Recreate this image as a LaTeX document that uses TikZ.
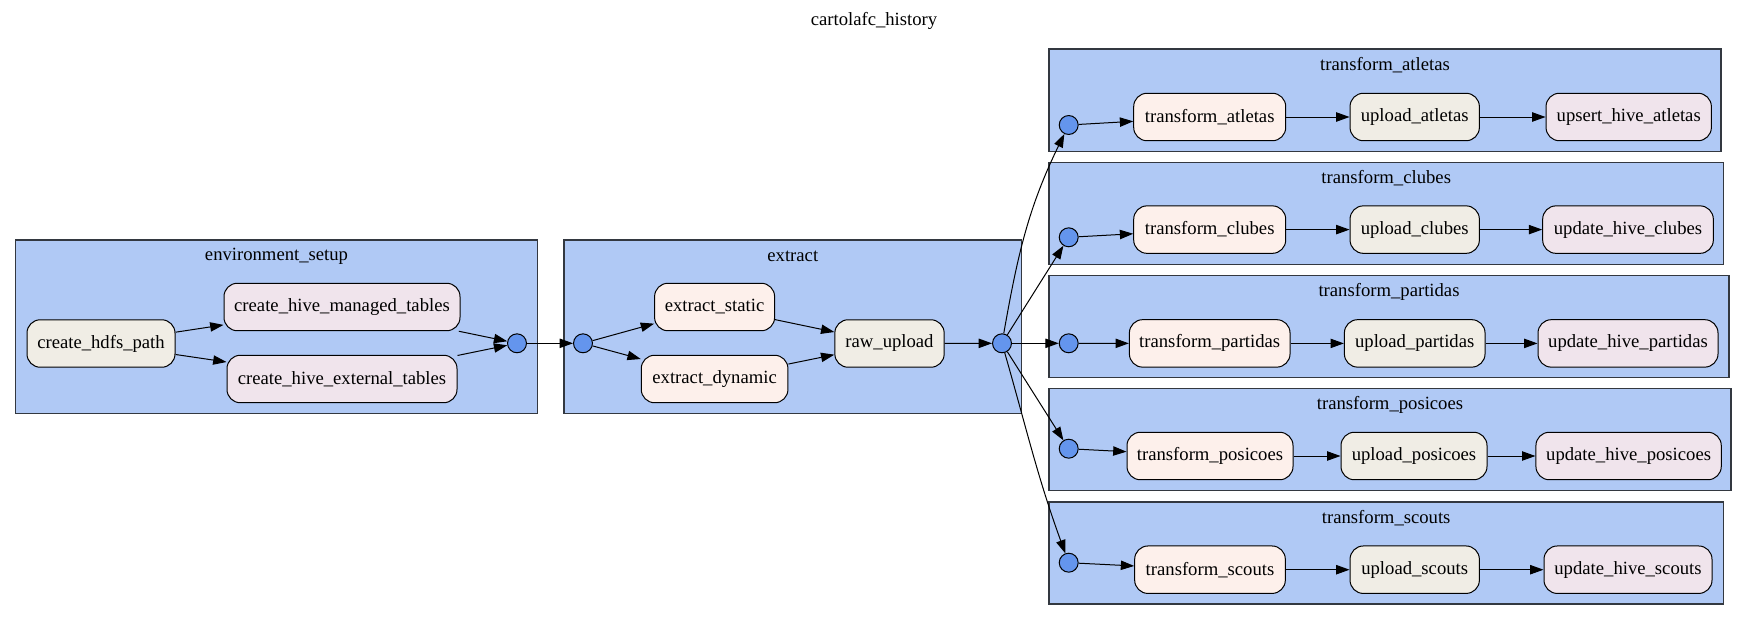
\documentclass[tikz,border=0pt]{standalone}
\usepackage{fontspec}
\setmainfont{Liberation Serif}
\usetikzlibrary{arrows.meta}

\definecolor{clusterblue}{HTML}{B0C9F5}
\definecolor{circblue}{HTML}{6495ED}
\definecolor{beigefill}{HTML}{F0EDE5}
\definecolor{peachfill}{HTML}{FDF0EB}
\definecolor{lilacfill}{HTML}{F0E4EC}
\definecolor{clusterline}{HTML}{333840}

\tikzset{
  task/.style={draw=black, line width=0.75pt, rounded corners=10pt,
    minimum height=35.6pt, inner xsep=0pt, align=center},
  beige/.style={task, fill=beigefill},
  peach/.style={task, fill=peachfill},
  lilac/.style={task, fill=lilacfill},
  junction/.style={circle, draw=black, line width=0.75pt, fill=circblue,
    minimum size=14.2pt, inner sep=0pt},
  cluster/.style={draw=clusterline, line width=0.9pt, fill=clusterblue},
  ctitle/.style={inner sep=0pt},
  flow/.style={line width=0.75pt, -{Triangle[length=10pt,width=7pt]}}
}

\begin{document}
\begin{tikzpicture}[x=0.75pt, y=-0.75pt, font=\fontsize{14pt}{17pt}\selectfont]
\useasboundingbox[fill=white] (0,0) rectangle (1748,621);

% title
\node[ctitle] (title) at (874,21) {cartolafc\_history};

% cluster frames
\path[cluster] (15.6,240) rectangle (537.3,413.5);
\node[ctitle] (tenv) at (276.5,256) {environment\_setup};
\path[cluster] (564,240) rectangle (1021.7,413.5);
\node[ctitle] (text) at (792.8,256) {extract};
\path[cluster] (1049,49) rectangle (1721,151.7);
\node[ctitle] (tatl) at (1385,64.7) {transform\_atletas};
\path[cluster] (1049,162.3) rectangle (1723.5,264.3);
\node[ctitle] (tclu) at (1386.2,178) {transform\_clubes};
\path[cluster] (1049,275.7) rectangle (1729,377.7);
\node[ctitle] (tpar) at (1389,291.5) {transform\_partidas};
\path[cluster] (1049,388.7) rectangle (1731,490.7);
\node[ctitle] (tpos) at (1390,404.5) {transform\_posicoes};
\path[cluster] (1049,502) rectangle (1723.5,604);
\node[ctitle] (tsco) at (1386.2,518) {transform\_scouts};

% environment_setup
\node[beige, minimum width=111pt] (hdfs) at (101,343.5) {create\_hdfs\_path};
\node[lilac, minimum width=177pt] (managed) at (342,307) {create\_hive\_managed\_tables};
\node[lilac, minimum width=172.5pt] (external) at (342,379) {create\_hive\_external\_tables};
\node[junction] (envout) at (517,343.3) {};

% extract
\node[junction] (extin) at (583,343.3) {};
\node[peach, minimum width=90pt] (static) at (714.6,307) {extract\_static};
\node[peach, minimum width=110pt] (dynamic) at (714.6,379) {extract\_dynamic};
\node[beige, minimum width=82pt] (raw) at (889.5,343.5) {raw\_upload};
\node[junction] (extout) at (1002,343.3) {};

% transform_atletas
\node[junction] (jatl) at (1068.7,125) {};
\node[peach, minimum width=114pt] (tfatl) at (1209.7,117) {transform\_atletas};
\node[beige, minimum width=97pt] (upatl) at (1414.7,117) {upload\_atletas};
\node[lilac, minimum width=124pt] (hvatl) at (1628.7,117) {upsert\_hive\_atletas};

% transform_clubes
\node[junction] (jclu) at (1068.7,237.3) {};
\node[peach, minimum width=114pt] (tfclu) at (1209.7,229.6) {transform\_clubes};
\node[beige, minimum width=97pt] (upclu) at (1414.7,229.6) {upload\_clubes};
\node[lilac, minimum width=128pt] (hvclu) at (1628,229.6) {update\_hive\_clubes};

% transform_partidas
\node[junction] (jpar) at (1068.7,343.3) {};
\node[peach, minimum width=120.5pt] (tfpar) at (1209.7,343.4) {transform\_partidas};
\node[beige, minimum width=105.5pt] (uppar) at (1414.7,343.4) {upload\_partidas};
\node[lilac, minimum width=135pt] (hvpar) at (1628,343.4) {update\_hive\_partidas};

% transform_posicoes
\node[junction] (jpos) at (1068.7,448.7) {};
\node[peach, minimum width=124.5pt] (tfpos) at (1210,456) {transform\_posicoes};
\node[beige, minimum width=109.5pt] (uppos) at (1414,456) {upload\_posicoes};
\node[lilac, minimum width=139pt] (hvpos) at (1628.6,456) {update\_hive\_posicoes};

% transform_scouts
\node[junction] (jsco) at (1068.7,562.7) {};
\node[peach, minimum width=113pt] (tfsco) at (1210,569.7) {transform\_scouts};
\node[beige, minimum width=97pt] (upsco) at (1414.7,569.7) {upload\_scouts};
\node[lilac, minimum width=126pt] (hvsco) at (1628,569.7) {update\_hive\_scouts};

% connectors
\draw[flow] (hdfs) -- (managed);
\draw[flow] (hdfs) -- (external);
\draw[flow] (managed) -- (envout);
\draw[flow] (external) -- (envout);
\draw[flow] (envout) -- (extin);
\draw[flow] (extin) -- (static);
\draw[flow] (extin) -- (dynamic);
\draw[flow] (static) -- (raw);
\draw[flow] (dynamic) -- (raw);
\draw[flow] (raw) -- (extout);

\draw[flow] (extout) to[out=80, in=244] (jatl);
\draw[flow] (extout) -- (jclu);
\draw[flow] (extout) -- (jpar);
\draw[flow] (extout) -- (jpos);
\draw[flow] (extout) to[out=-74, in=110] (jsco);

\draw[flow] (jatl) -- (tfatl);
\draw[flow] (tfatl) -- (upatl);
\draw[flow] (upatl) -- (hvatl);
\draw[flow] (jclu) -- (tfclu);
\draw[flow] (tfclu) -- (upclu);
\draw[flow] (upclu) -- (hvclu);
\draw[flow] (jpar) -- (tfpar);
\draw[flow] (tfpar) -- (uppar);
\draw[flow] (uppar) -- (hvpar);
\draw[flow] (jpos) -- (tfpos);
\draw[flow] (tfpos) -- (uppos);
\draw[flow] (uppos) -- (hvpos);
\draw[flow] (jsco) -- (tfsco);
\draw[flow] (tfsco) -- (upsco);
\draw[flow] (upsco) -- (hvsco);
\end{tikzpicture}
\end{document}
